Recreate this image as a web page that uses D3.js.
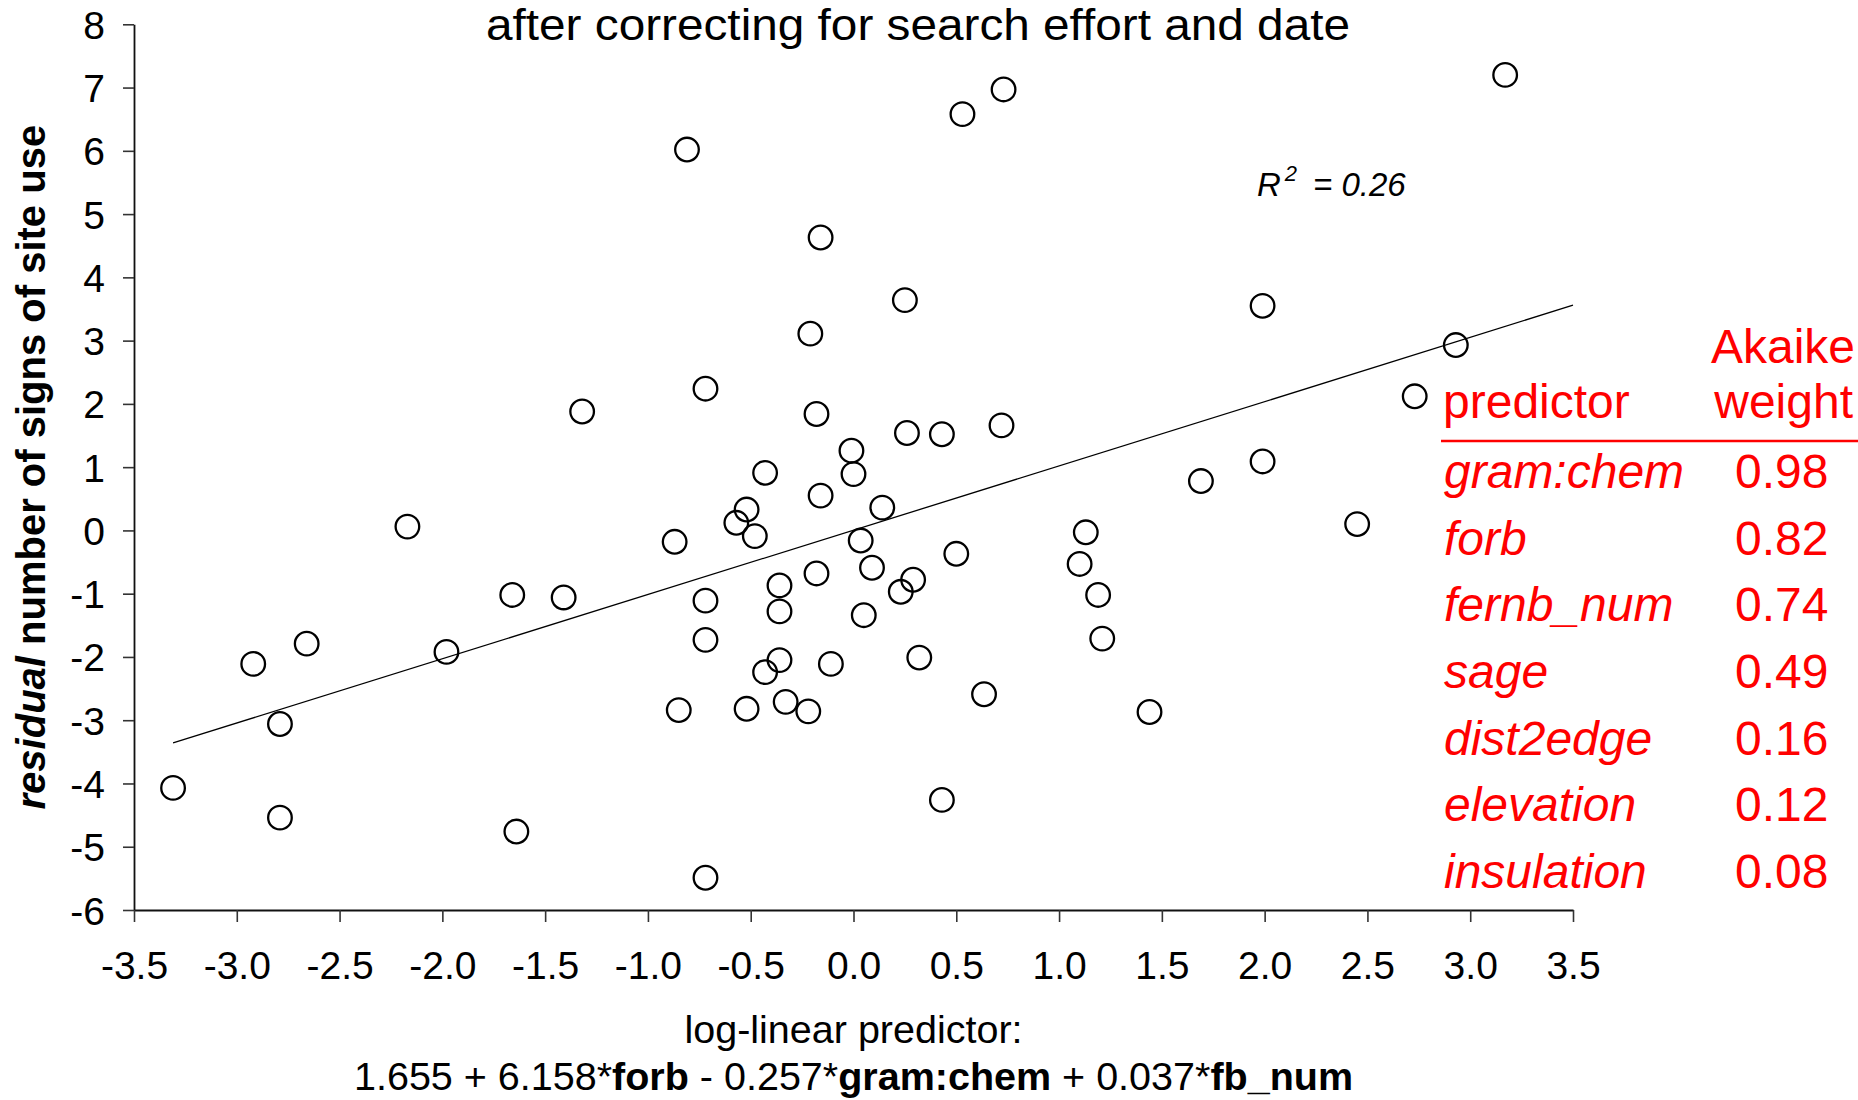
<!DOCTYPE html>
<html>
<head>
<meta charset="utf-8">
<script src="https://cdn.jsdelivr.net/npm/d3@7"></script>
<style>
  body { margin: 0; background: #fff; }
  svg { display: block; font-family: "Liberation Sans", Arial, sans-serif; }
</style>
</head>
<body>
<svg id="chart" width="1858" height="1100"></svg>
<script>
// values
const predictorX = [
  -3.31, -2.92, -2.79, -2.79, -2.66, -2.17, -1.98, -1.66, -1.64, -1.41,
  -1.32, -0.87, -0.85, -0.81, -0.72, -0.72, -0.72, -0.72, -0.57, -0.52,
  -0.52, -0.48, -0.43, -0.43, -0.36, -0.36, -0.36, -0.33, -0.22, -0.21,
  -0.18, -0.18, -0.16, -0.16, -0.11, -0.01, 0.00, 0.035, 0.05, 0.09,
  0.14, 0.23, 0.25, 0.26, 0.29, 0.32, 0.43, 0.43, 0.50, 0.53,
  0.635, 0.72, 0.73, 1.10, 1.13, 1.19, 1.21, 1.44, 1.69, 1.99,
  1.99, 2.45, 2.73, 2.93, 3.17
]
const residualY = [
  -4.07, -2.11, -3.06, -4.54, -1.79, 0.06, -1.92, -1.02, -4.76, -1.06,
  1.88, -0.18, -2.84, 6.02, 2.24, -1.11, -1.73, -5.49, 0.12, 0.33,
  -2.82, -0.09, 0.91, -2.24, -0.87, -1.28, -2.05, -2.71, -2.86, 3.11,
  1.84, -0.68, 4.63, 0.55, -2.11, 1.26, 0.89, -0.16, -1.34, -0.59,
  0.36, -0.97, 3.64, 1.54, -0.78, -2.01, 1.52, -4.26, -0.37, 6.58,
  -2.59, 1.66, 6.97, -0.53, -0.03, -1.02, -1.71, -2.87, 0.78, 3.55,
  1.09, 0.10, 2.12, 2.93, 7.20
]
const trendX = [-3.31, 3.5]
const trendY = [-3.36, 3.56]

const xTicks = [-3.5, -3.0, -2.5, -2.0, -1.5, -1.0, -0.5, 0.0, 0.5, 1.0, 1.5, 2.0, 2.5, 3.0, 3.5]
const yTicks = [-6, -5, -4, -3, -2, -1, 0, 1, 2, 3, 4, 5, 6, 7, 8]

const predictorNames = ['gram:chem', 'forb', 'fernb_num', 'sage', 'dist2edge', 'elevation', 'insulation']
const akaikeWeights = ['0.98', '0.82', '0.74', '0.49', '0.16', '0.12', '0.08']

const svg = d3.select('#chart')
const plot = { left: 134, right: 1573, top: 24.3, bottom: 910 }

const x = d3.scaleLinear().domain([-3.5, 3.5]).range([plot.left, plot.right])
const y = d3.scaleLinear().domain([-6, 8]).range([plot.bottom, plot.top])

// axes
const yAxis = d3.axisLeft(y)
  .tickValues(yTicks)
  .tickFormat((d) => String(d))
  .tickSizeInner(11)
  .tickSizeOuter(0)
  .tickPadding(18)
const xAxis = d3.axisBottom(x)
  .tickValues(xTicks)
  .tickFormat((d) => d.toFixed(1))
  .tickSizeInner(12)
  .tickSizeOuter(0)
  .tickPadding(29)

const gy = svg.append('g')
  .attr('transform', `translate(${plot.left},0)`)
  .call(yAxis)
const gx = svg.append('g')
  .attr('transform', `translate(0,${plot.bottom})`)
  .call(xAxis)

for (const g of [gx, gy]) {
  g.selectAll('path.domain').attr('stroke', '#111').attr('stroke-width', 1.8)
  g.selectAll('.tick line').attr('stroke', '#333').attr('stroke-width', 1.6)
  g.selectAll('.tick text')
    .attr('fill', '#000')
    .style('font-size', '39px')
    .style('font-family', '"Liberation Sans", Arial, sans-serif')
}
gy.selectAll('.tick text').attr('dy', '0.36em')

// regression line
svg.append('line')
  .attr('x1', x(trendX[0])).attr('y1', y(trendY[0]))
  .attr('x2', x(trendX[1])).attr('y2', y(trendY[1]))
  .attr('stroke', '#000')
  .attr('stroke-width', 1.3)

// points
svg.append('g')
  .selectAll('circle')
  .data(d3.range(predictorX.length))
  .join('circle')
  .attr('cx', (i) => x(predictorX[i]))
  .attr('cy', (i) => y(residualY[i]))
  .attr('r', 11.8)
  .attr('fill', 'none')
  .attr('stroke', '#000')
  .attr('stroke-width', 2.3)

// title
svg.append('text')
  .attr('x', 918)
  .attr('y', 40)
  .attr('text-anchor', 'middle')
  .attr('textLength', 864)
  .attr('lengthAdjust', 'spacingAndGlyphs')
  .style('font-size', '44px')
  .text('after correcting for search effort and date')

// R^2 note
const r2 = svg.append('text')
  .attr('x', 1257)
  .attr('y', 196)
  .style('font-size', '33px')
  .style('font-style', 'italic')
r2.append('tspan').text('R')
r2.append('tspan').attr('dx', 4).attr('dy', -15).style('font-size', '22px').text('2')
r2.append('tspan').attr('x', 1313).attr('dy', 15).text('= 0.26')

// y axis title
const yTitle = svg.append('text')
  .attr('transform', `translate(45,${(plot.top + plot.bottom) / 2}) rotate(-90)`)
  .attr('text-anchor', 'middle')
  .style('font-size', '40px')
  .style('font-weight', 'bold')
yTitle.append('tspan').style('font-style', 'italic').text('residual')
yTitle.append('tspan').text(' number of signs of site use')

// x axis title
const xMid = (plot.left + plot.right) / 2
svg.append('text')
  .attr('x', xMid)
  .attr('y', 1043)
  .attr('text-anchor', 'middle')
  .style('font-size', '39.5px')
  .text('log-linear predictor:')

const eq = svg.append('text')
  .attr('x', xMid)
  .attr('y', 1090)
  .attr('text-anchor', 'middle')
  .style('font-size', '39.5px')
const eqParts = [
  ['1.655 + 6.158*', false], ['forb', true], [' - 0.257*', false],
  ['gram:chem', true], [' + 0.037*', false], ['fb_num', true]
]
eqParts.forEach(([t, b]) => {
  eq.append('tspan').style('font-weight', b ? 'bold' : 'normal').text(t)
})

// Akaike weight table
const red = '#ff0000'
const tab = svg.append('g').attr('fill', red).style('font-size', '48px')
tab.append('text').attr('x', 1855).attr('y', 363).attr('text-anchor', 'end').text('Akaike')
tab.append('text').attr('x', 1853).attr('y', 418).attr('text-anchor', 'end').text('weight')
tab.append('text').attr('x', 1443).attr('y', 418).text('predictor')
tab.append('line')
  .attr('x1', 1441).attr('x2', 1858)
  .attr('y1', 441).attr('y2', 441)
  .attr('stroke', red).attr('stroke-width', 2.6)

const rowY = d3.scalePoint().domain(predictorNames).range([488, 888])
tab.selectAll('text.name')
  .data(predictorNames)
  .join('text')
  .attr('class', 'name')
  .attr('x', 1444)
  .attr('y', (d) => rowY(d))
  .style('font-style', 'italic')
  .text((d) => d)
tab.selectAll('text.weight')
  .data(akaikeWeights)
  .join('text')
  .attr('class', 'weight')
  .attr('x', 1735)
  .attr('y', (d, i) => rowY(predictorNames[i]))
  .text((d) => d)
</script>
</body>
</html>
